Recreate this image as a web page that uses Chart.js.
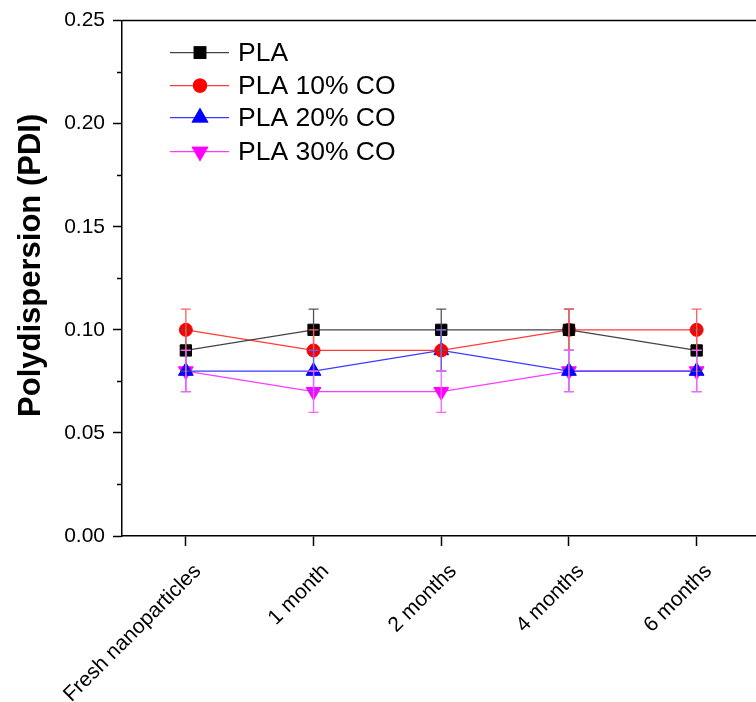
<!DOCTYPE html>
<html>
<head>
<meta charset="utf-8">
<script src="https://cdn.jsdelivr.net/npm/chart.js@4"></script>
<style>
  html, body { margin: 0; padding: 0; background: #fff; overflow: hidden; }
  #wrap { width: 770px; height: 702px; }
</style>
</head>
<body>
<div id="wrap"><canvas id="pdi" width="770" height="702"></canvas></div>
<script>
// timepoints and PDI values
var categories = ["Fresh nanoparticles", "1 month", "2 months", "4 months", "6 months"];
var seriesNames = ["PLA", "PLA 10% CO", "PLA 20% CO", "PLA 30% CO"];
var pla     = [0.09, 0.10, 0.10, 0.10, 0.09];
var pla10   = [0.10, 0.09, 0.09, 0.10, 0.10];
var pla20   = [0.08, 0.08, 0.09, 0.08, 0.08];
var pla30   = [0.08, 0.07, 0.07, 0.08, 0.08];
var plaErr   = [0.01, 0.01, 0.01, 0.01, 0.01];
var pla10Err = [0.01, 0.01, 0.01, 0.01, 0.01];
var pla20Err = [0.01, 0.01, 0.01, 0.01, 0.01];
var pla30Err = [0.01, 0.01, 0.01, 0.01, 0.01];
var yTicks = [0, 0.05, 0.10, 0.15, 0.20, 0.25];

var FONT = "'Liberation Sans', Arial, sans-serif";

function ds(label, data, err, line, marker, barColor, style, radius, rot) {
    return {
        label: label,
        data: data,
        errors: err,
        errColor: barColor,
        borderColor: line,
        borderWidth: 1.3,
        backgroundColor: marker,
        pointBackgroundColor: marker,
        pointBorderColor: marker,
        pointBorderWidth: 1,
        pointStyle: style,
        pointRadius: radius,
        pointHoverRadius: radius,
        pointRotation: rot,
        tension: 0
    };
}

// error bars drawn on top of the markers, like the original
var errorBars = {
    id: 'errorBars',
    afterDatasetsDraw: function (chart) {
        var ctx = chart.ctx, y = chart.scales.y;
        chart.data.datasets.forEach(function (d, i) {
            var meta = chart.getDatasetMeta(i);
            ctx.save();
            ctx.strokeStyle = d.errColor;
            ctx.lineWidth = 1.3;
            meta.data.forEach(function (pt, j) {
                var top = y.getPixelForValue(d.data[j] + d.errors[j]);
                var bot = y.getPixelForValue(d.data[j] - d.errors[j]);
                ctx.beginPath();
                ctx.moveTo(pt.x, top); ctx.lineTo(pt.x, bot);
                ctx.moveTo(pt.x - 5, top); ctx.lineTo(pt.x + 5, top);
                ctx.moveTo(pt.x - 5, bot); ctx.lineTo(pt.x + 5, bot);
                ctx.stroke();
            });
            ctx.restore();
        });
    }
};

// top frame line, minor y ticks and the inset legend
var frame = {
    id: 'frame',
    afterDraw: function (chart) {
        var ctx = chart.ctx, a = chart.chartArea, y = chart.scales.y;
        ctx.save();
        ctx.strokeStyle = '#000';
        ctx.lineWidth = 1.5;
        ctx.beginPath();
        ctx.moveTo(a.left, a.top); ctx.lineTo(a.right, a.top);
        for (var v = 0.025; v < 0.25; v += 0.05) {
            var py = Math.round(y.getPixelForValue(v)) + 0.5;
            ctx.moveTo(a.left - 5, py); ctx.lineTo(a.left, py);
        }
        ctx.stroke();

        var rows = [32, 65, 97, 131];
        chart.data.datasets.forEach(function (d, i) {
            var cy = a.top + rows[i], x0 = a.left + 48, x1 = a.left + 107, mx = a.left + 78;
            ctx.strokeStyle = d.borderColor;
            ctx.lineWidth = 1.3;
            ctx.beginPath(); ctx.moveTo(x0, cy); ctx.lineTo(x1, cy); ctx.stroke();
            Chart.helpers.drawPoint(ctx, {
                pointStyle: d.pointStyle, radius: d.pointRadius, rotation: d.pointRotation, borderWidth: 1
            }, mx, cy);
            ctx.fillStyle = d.pointBackgroundColor;
            ctx.strokeStyle = d.pointBorderColor;
            ctx.fill(); ctx.stroke();
            ctx.fillStyle = '#000';
            ctx.font = '26.5px ' + FONT;
            ctx.textBaseline = 'middle';
            ctx.textAlign = 'left';
            ctx.fillText(d.label, a.left + 116, cy + 1);
        });
        ctx.restore();
    }
};

new Chart(document.getElementById('pdi'), {
    type: 'line',
    data: {
        labels: categories,
        datasets: [
            ds(seriesNames[0], pla,   plaErr,   '#444444', '#000000', '#555555', 'rect', 8, 0),
            ds(seriesNames[1], pla10, pla10Err, '#ff3b3b', '#ff0000', '#ff6060', 'circle', 6.5, 0),
            ds(seriesNames[2], pla20, pla20Err, '#3b3bff', '#0000ff', '#6060ff', 'triangle', 8.5, 0),
            ds(seriesNames[3], pla30, pla30Err, '#ff3bff', '#ff00ff', '#ff60ff', 'triangle', 8.5, 180)
        ]
    },
    options: {
        responsive: false,
        animation: false,
        layout: { padding: { top: 14, right: 8, bottom: 0, left: 0 } },
        plugins: { legend: { display: false }, tooltip: { enabled: false } },
        scales: {
            x: {
                offset: true,
                grid: { offset: false, drawOnChartArea: false, drawTicks: true, tickLength: 10, color: '#000', tickWidth: 1.5 },
                border: { display: true, color: '#000', width: 1.5 },
                ticks: {
                    color: '#000', font: { family: FONT, size: 21 }, minRotation: 45, maxRotation: 45,
                    padding: 13, labelOffset: 12
                },
                afterFit: function (s) { s.height = 166; }
            },
            y: {
                min: 0,
                max: 0.25,
                afterBuildTicks: function (s) { s.ticks = yTicks.map(function (v) { return { value: v }; }); },
                grid: { drawOnChartArea: false, drawTicks: true, tickLength: 9, color: '#000', tickWidth: 1.5 },
                border: { display: true, color: '#000', width: 1.5 },
                ticks: {
                    color: '#000', font: { family: FONT, size: 21 }, padding: 8,
                    callback: function (v) { return Number(v).toFixed(2); }
                },
                title: {
                    display: true, text: '   Polydispersion (PDI)', color: '#000',
                    font: { family: FONT, size: 31, weight: 'bold' }, padding: { top: 13, bottom: 0 }
                },
                afterFit: function (s) { s.width = 122; }
            }
        }
    },
    plugins: [errorBars, frame]
});
</script>
</body>
</html>
